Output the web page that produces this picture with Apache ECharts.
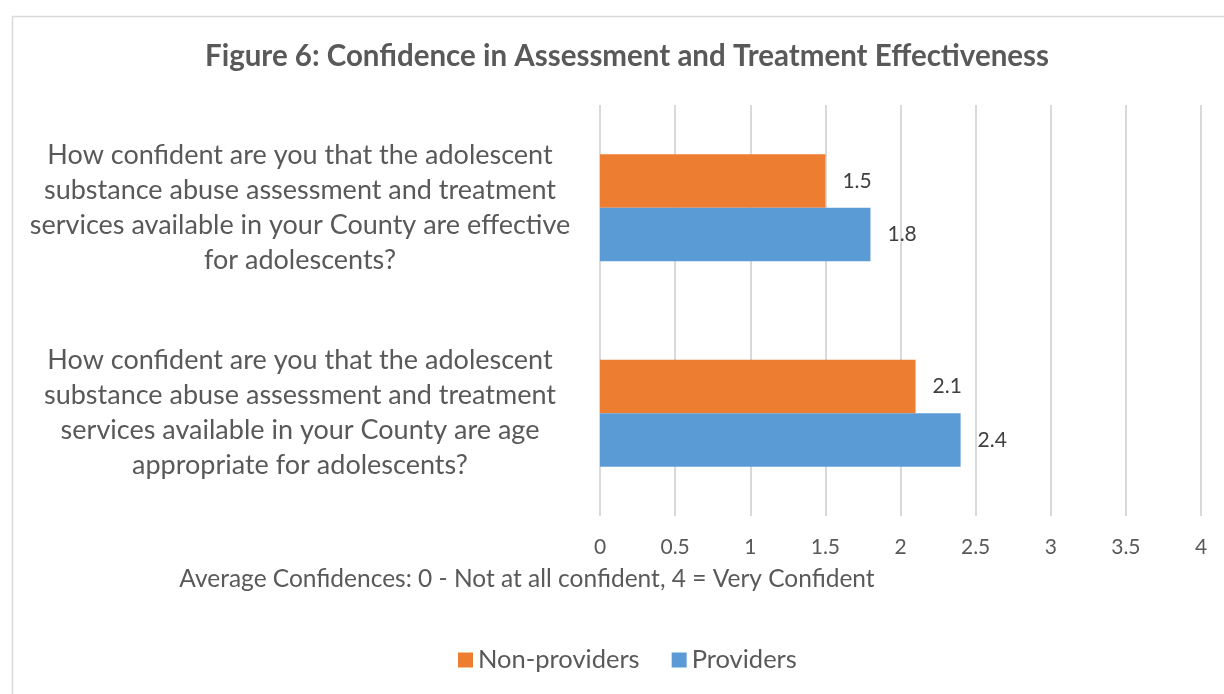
<!DOCTYPE html>
<html>
<head>
<meta charset="utf-8">
<script src="https://cdn.jsdelivr.net/npm/echarts@6/dist/echarts.min.js"></script>
<style>
  html, body { margin: 0; padding: 0; background: #fff; }
  #chart { width: 1224px; height: 694px; }
</style>
</head>
<body>
<div id="chart"></div>
<script>
// Survey questions (bottom to top on the category axis)
const questions = [
  'How confident are you that the adolescent\nsubstance abuse assessment and treatment\nservices available in your County are age\nappropriate for adolescents?',
  'How confident are you that the adolescent\nsubstance abuse assessment and treatment\nservices available in your County are effective\nfor adolescents?'
];
const seriesNames = ['Non-providers', 'Providers'];
const nonProviders = [2.1, 1.5];
const providers = [2.4, 1.8];
const axisMin = 0;
const axisMax = 4;
const axisStep = 0.5;

const FONT = 'Lato, "Open Sans", sans-serif';
const TEXT = '#595959';

const chart = echarts.init(document.getElementById('chart'), null, { renderer: 'canvas' });

const labelStyle = {
  show: true,
  position: 'right',
  distance: 17,
  color: '#404040',
  fontFamily: FONT,
  fontSize: 21
};

chart.setOption({
  animation: false,
  backgroundColor: '#ffffff',
  textStyle: { fontFamily: FONT },
  graphic: [{
    type: 'rect',
    left: 10,
    top: 14,
    shape: { width: 1240, height: 700 },
    style: { fill: 'none', stroke: '#d9d9d9', lineWidth: 1.5 },
    silent: true,
    z: -1
  }],
  title: [{
    text: 'Figure 6: Confidence in Assessment and Treatment Effectiveness',
    left: 622,
    top: 36,
    textAlign: 'center',
    textStyle: { fontFamily: FONT, fontSize: 29.5, fontWeight: 'bold', color: TEXT }
  }, {
    text: 'Average Confidences: 0 - Not at all confident, 4 = Very Confident',
    left: 522,
    top: 562,
    textAlign: 'center',
    textStyle: { fontFamily: FONT, fontSize: 24.5, fontWeight: 'normal', color: TEXT }
  }],
  legend: {
    data: seriesNames,
    left: 453,
    top: 642,
    itemWidth: 15,
    itemHeight: 15,
    itemGap: 32,
    icon: 'rect',
    textStyle: { fontFamily: FONT, fontSize: 25.5, color: TEXT }
  },
  grid: {
    left: 600,
    top: 105,
    width: 601,
    height: 411,
    containLabel: false
  },
  xAxis: {
    type: 'value',
    min: axisMin,
    max: axisMax,
    interval: axisStep,
    axisLine: { show: false },
    axisTick: { show: false },
    splitLine: { show: true, lineStyle: { color: '#d9d9d9', width: 2 } },
    axisLabel: { color: TEXT, fontFamily: FONT, fontSize: 21, margin: 21 }
  },
  yAxis: {
    type: 'category',
    data: questions,
    axisLine: { show: false },
    axisTick: { show: false },
    axisLabel: {
      color: TEXT,
      fontFamily: FONT,
      fontSize: 27,
      lineHeight: 35,
      align: 'center',
      margin: 300
    }
  },
  series: [{
    name: seriesNames[0],
    type: 'bar',
    data: nonProviders,
    barGap: '0%',
    barCategoryGap: '48%',
    itemStyle: { color: '#ED7D31' },
    label: labelStyle
  }, {
    name: seriesNames[1],
    type: 'bar',
    data: providers,
    barGap: '0%',
    barCategoryGap: '48%',
    itemStyle: { color: '#5B9BD5' },
    label: labelStyle
  }]
});
</script>
</body>
</html>
